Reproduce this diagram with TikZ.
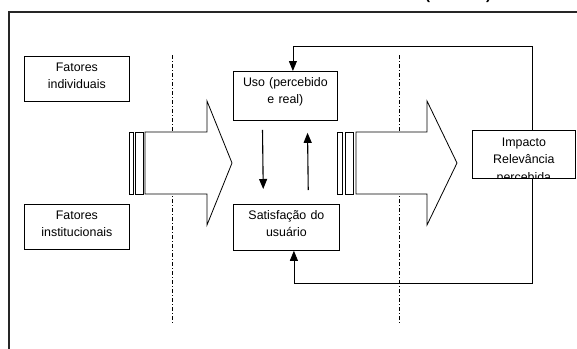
\documentclass[tikz,border=0pt]{standalone}
\usepackage{fontspec}
\setmainfont{Liberation Sans}
\usetikzlibrary{arrows.meta}

\tikzset{
  caixa/.style={draw, rectangle, anchor=north west, text width=95pt, align=center,
    inner xsep=2pt, inner ysep=0pt, text height=15pt, line width=0.8pt,
    font=\fontsize{12.4}{17}\selectfont},
  seta/.style={-{Triangle[length=10pt,width=8pt]}, line width=1.1pt},
  retorno/.style={-{Triangle[length=10pt,width=8pt]}, line width=0.8pt},
  divisa/.style={dash pattern=on 4pt off 2pt on 1pt off 2pt, line width=0.6pt},
  setagrossa/.style={draw, fill=white, line width=0.8pt},
  moldura/.style={line width=1.6pt, draw=black!85},
}

\begin{document}
\begin{tikzpicture}[x=1pt,y=-1pt]
  \useasboundingbox (0,0) rectangle (577,348);
  % frame and the cut title
  \draw[moldura] (600,12) -- (9,12) -- (9,370);
  \node[font=\bfseries\fontsize{15}{18}\selectfont, anchor=base] (titulo) at (458,-0.5) {(\hspace{56pt})};
  % dividers
  \coordinate (d1a) at (172,55);
  \coordinate (d1b) at (172,324);
  \coordinate (d2a) at (399,55);
  \coordinate (d2b) at (399,324);
  \draw[divisa] (d1a) -- (d1b);
  \draw[divisa] (d2a) -- (d2b);
  % big arrows
  \draw[setagrossa] (129,132) rectangle (133,194);
  \draw[setagrossa] (135,132) rectangle (143,194);
  \draw[setagrossa] (145,132) -- (207,132) -- (207,101) -- (232,163) -- (207,225) -- (207,194) -- (145,194) -- cycle;
  \draw[setagrossa] (337,132) rectangle (342,194);
  \draw[setagrossa] (345,132) rectangle (353,194);
  \draw[setagrossa] (356,132) -- (427,132) -- (427,101) -- (457,163) -- (427,225) -- (427,194) -- (356,194) -- cycle;
  % boxes
  \node[caixa, minimum width=105pt, text depth=30pt] (indiv) at (24,56) {Fatores\\individuais};
  \node[caixa, minimum width=105pt, text depth=30pt] (inst) at (24,204) {Fatores\\institucionais};
  \node[caixa, minimum width=104pt, text depth=34pt] (uso) at (233,71) {Uso (percebido\\e real)};
  \node[caixa, minimum width=106pt, text depth=31pt] (sat) at (233,204) {Satisfação do\\usuário};
  \node[caixa, minimum width=103pt, text depth=33pt] (impacto) at (472,130) {};
  \begin{scope}
    \clip (impacto.south west) rectangle (impacto.north east);
    \node[caixa, draw=none, minimum width=103pt, text height=16pt, text depth=33pt,
      font=\fontsize{12.4}{17.5}\selectfont] (impactotxt) at (impacto.north west) {Impacto\\Relevância\\percebida};
  \end{scope}
  % arrows between uso and satisfacao
  \draw[seta, shorten <=9pt, shorten >=15pt] ([xshift=-23pt]uso.south) -- ([xshift=-23pt]sat.north);
  \draw[seta, shorten <=14pt, shorten >=12pt] ([xshift=22pt]sat.north) -- ([xshift=22pt]uso.south);
  % feedback loops
  \coordinate (topo) at (0,46);
  \coordinate (fundo) at (0,283);
  \coordinate (impcima) at ([xshift=8pt]impacto.north);
  \coordinate (impbaixo) at ([xshift=8pt]impacto.south);
  \coordinate (usocima) at ([xshift=7.5pt]uso.north);
  \coordinate (satbaixo) at ([xshift=7.5pt]sat.south);
  \draw[retorno] (impcima) |- (usocima |- topo) -- (usocima);
  \draw[retorno] (impbaixo) |- (satbaixo |- fundo) -- (satbaixo);
\end{tikzpicture}
\end{document}
